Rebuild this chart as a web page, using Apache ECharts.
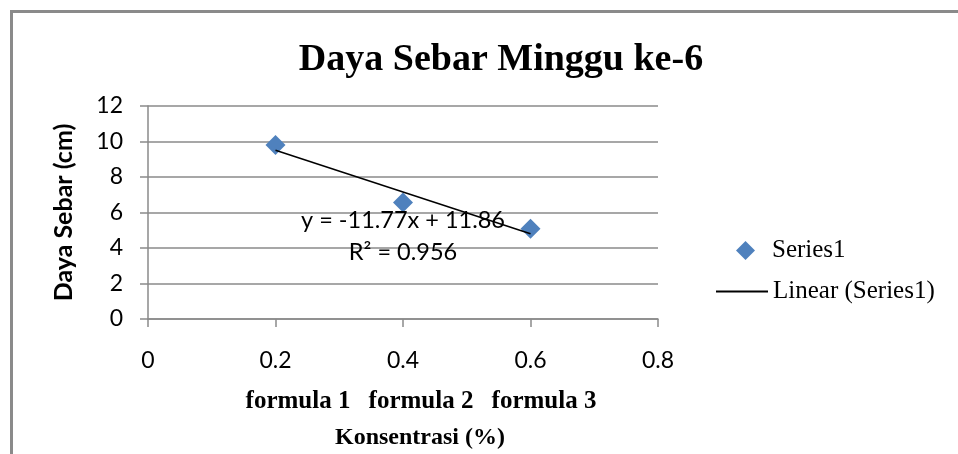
<!DOCTYPE html>
<html>
<head>
<meta charset="utf-8">
<script src="https://cdn.jsdelivr.net/npm/echarts@6/dist/echarts.min.js"></script>
<style>
html, body { margin: 0; padding: 0; background: #fff; overflow: hidden; }
#chart { width: 100vw; height: 100vh; }
</style>
</head>
<body>
<div id="chart"></div>
<script>
// data
var konsentrasi = [0.2, 0.4, 0.6];
var dayaSebar = [9.8, 6.56, 5.09];
var formulaLabels = ['formula 1', 'formula 2', 'formula 3'];
// linear trendline end points (Excel)
var trendX = [0.2, 0.6];
var trendY = [9.51, 4.80];
var trendText = ['y = -11.77x + 11.86', 'R² = 0.956'];

var xTicks = [0, 0.2, 0.4, 0.6, 0.8];
var yTicks = [0, 2, 4, 6, 8, 10, 12];

var sans = 'Lato, "Open Sans", sans-serif';
var serif = '"Liberation Serif", "DejaVu Serif", serif';
var gridColor = '#8a8a8a';

var chart = echarts.init(document.getElementById('chart'));

var option = {
    animation: false,
    title: {
        text: 'Daya Sebar Minggu ke-6',
        left: 496,
        top: 36,
        textAlign: 'center',
        textStyle: {
            fontFamily: serif,
            fontWeight: 'bold',
            fontSize: 38,
            color: '#000'
        }
    },
    legend: [
        {
            data: ['Series1'],
            left: 731,
            top: 233,
            itemWidth: 19,
            itemHeight: 19,
            itemGap: 0,
            textStyle: { fontFamily: serif, fontSize: 25, color: '#000', padding: [0, 0, 0, 12] }
        },
        {
            data: ['Linear (Series1)'],
            icon: 'rect',
            left: 711,
            top: 274,
            itemWidth: 52,
            itemHeight: 2,
            itemGap: 0,
            textStyle: { fontFamily: serif, fontSize: 25, color: '#000' }
        }
    ],
    grid: {
        left: 148,
        right: 300,
        top: 106,
        bottom: 135,
        containLabel: false
    },
    xAxis: {
        type: 'value',
        min: xTicks[0],
        max: xTicks[xTicks.length - 1],
        interval: 0.2,
        axisLine: { show: true, lineStyle: { color: gridColor, width: 1.5 } },
        axisTick: { show: true, length: 8, inside: false, lineStyle: { color: gridColor, width: 1.5 } },
        splitLine: { show: false },
        axisLabel: {
            margin: 30,
            fontFamily: sans,
            fontSize: 23,
            color: '#000',
            formatter: function (v) { return String(Math.round(v * 10) / 10); }
        }
    },
    yAxis: {
        type: 'value',
        min: yTicks[0],
        max: yTicks[yTicks.length - 1],
        interval: 2,
        name: 'Daya Sebar (cm)',
        nameLocation: 'middle',
        nameGap: 72,
        nameTextStyle: { fontFamily: sans, fontWeight: 'bold', fontSize: 25, color: '#000' },
        axisLine: { show: true, lineStyle: { color: gridColor, width: 1.5 } },
        axisTick: { show: true, length: 8, lineStyle: { color: gridColor, width: 1.5 } },
        splitLine: { show: true, lineStyle: { color: gridColor, width: 1.5 } },
        axisLabel: { margin: 25, fontFamily: sans, fontSize: 23, color: '#000' }
    },
    series: [
        {
            name: 'Series1',
            type: 'scatter',
            symbol: 'diamond',
            symbolSize: 20,
            itemStyle: { color: '#4f81bd', opacity: 1 },
            data: konsentrasi.map(function (x, i) { return [x, dayaSebar[i]]; }),
            z: 3
        },
        {
            name: 'Linear (Series1)',
            type: 'line',
            showSymbol: false,
            symbol: 'none',
            lineStyle: { color: '#000', width: 1.5 },
            itemStyle: { color: '#000' },
            data: trendX.map(function (x, i) { return [x, trendY[i]]; }),
            z: 4
        }
    ],
    graphic: [
        {
            // chart area border, only top and left edges are in view
            type: 'polyline',
            shape: { points: [[11.5, 2000], [11.5, 11.5], [2000, 11.5]] },
            style: { fill: null, stroke: '#8a8a8a', lineWidth: 3 },
            silent: true
        },
        {
            type: 'text',
            x: 403, y: 220,
            style: { text: trendText[0], fontFamily: sans, fontSize: 23.5, fill: '#000', align: 'center', verticalAlign: 'middle' },
            z: 10
        },
        {
            type: 'text',
            x: 403, y: 252,
            style: { text: trendText[1], fontFamily: sans, fontSize: 23.5, fill: '#000', align: 'center', verticalAlign: 'middle' },
            z: 10
        },
        {
            type: 'text',
            x: 420, y: 438,
            style: { text: 'Konsentrasi (%)', fontFamily: serif, fontWeight: 'bold', fontSize: 24, fill: '#000', align: 'center', verticalAlign: 'middle' }
        }
    ]
};

var formulaX = [298, 421, 544];
formulaLabels.forEach(function (t, i) {
    option.graphic.push({
        type: 'text',
        x: formulaX[i], y: 402,
        style: { text: t, fontFamily: serif, fontWeight: 'bold', fontSize: 25, fill: '#000', align: 'center', verticalAlign: 'middle' }
    });
});

chart.setOption(option);
</script>
</body>
</html>
